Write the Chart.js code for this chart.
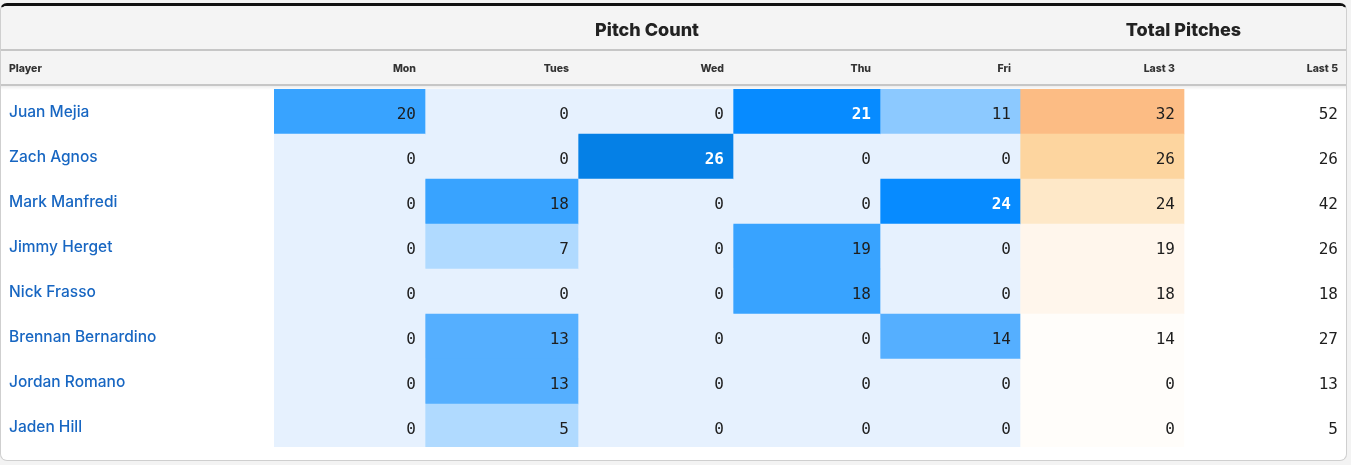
<!DOCTYPE html>
<html>
<head>
<meta charset="utf-8">
<script src="https://cdn.jsdelivr.net/npm/chart.js@4.4.1/dist/chart.umd.min.js"></script>
<style>
  html, body { margin: 0; padding: 0; background: #f3f3f3; }
  #card {
    position: absolute; left: 0; top: 3px; width: 1345px; height: 454px;
    background: #fff; border: 1px solid #cfcfcf; border-top: 3px solid #111;
    border-radius: 7px; overflow: hidden;
  }
  #chart { position: absolute; left: -1px; top: -6px; }
</style>
</head>
<body>
<div id="card"><canvas id="chart" width="1351" height="465"></canvas></div>
<script>
// data
var players = ['Juan Mejia', 'Zach Agnos', 'Mark Manfredi', 'Jimmy Herget', 'Nick Frasso', 'Brennan Bernardino', 'Jordan Romano', 'Jaden Hill'];
var columns = ['Mon', 'Tues', 'Wed', 'Thu', 'Fri', 'Last 3', 'Last 5'];
var groups = ['Pitch Count', 'Total Pitches'];
var mon   = [20, 0, 0, 0, 0, 0, 0, 0];
var tues  = [0, 0, 18, 7, 0, 13, 13, 5];
var wed   = [0, 26, 0, 0, 0, 0, 0, 0];
var thu   = [21, 0, 0, 19, 18, 0, 0, 0];
var fri   = [11, 0, 24, 0, 0, 14, 0, 0];
var last3 = [32, 26, 24, 19, 18, 14, 0, 0];
var last5 = [52, 26, 42, 26, 18, 27, 13, 5];
var values = [mon, tues, wed, thu, fri, last3, last5];

// layout: column widths in px, left to right
var colWidths = [151, 153, 155, 147, 140, 164, 163];
var edges = [0];
colWidths.forEach(function(w, i) { edges.push(edges[i] + w); });

function blue(v) {
	if (v >= 26) return '#0580e6';
	if (v >= 21) return '#078bff';
	if (v >= 18) return '#38a3ff';
	if (v >= 13) return '#55afff';
	if (v >= 11) return '#8cc9ff';
	if (v >= 5) return '#b0daff';
	return '#e6f1fe';
}
function orange(v) {
	if (v >= 32) return '#fcbc84';
	if (v >= 26) return '#fdd59f';
	if (v >= 24) return '#fee8c8';
	if (v >= 18) return '#fff6ec';
	return '#fffdfa';
}
function cellColor(col, v) {
	if (col < 5) return blue(v);
	if (col == 5) return orange(v);
	return 'rgba(0,0,0,0)';
}

var datasets = values.map(function(vals, c) {
	return {
		label: columns[c],
		data: vals.map(function() { return [edges[c], edges[c + 1]]; }),
		backgroundColor: vals.map(function(v) { return cellColor(c, v); }),
		borderWidth: 0,
		barPercentage: 1,
		categoryPercentage: 1,
		grouped: false
	};
});

var tablePlugin = {
	id: 'table',
	beforeDraw: function(chart) {
		var ctx = chart.ctx, xs = chart.scales.x;
		ctx.save();
		ctx.fillStyle = '#f4f4f4';
		ctx.fillRect(0, 6, chart.width, 79);
		ctx.fillStyle = '#c6c6c6';
		ctx.fillRect(0, 49, chart.width, 2);
		ctx.fillRect(0, 84, chart.width, 2);
		var g = ctx.createLinearGradient(0, 86, 0, 90);
		g.addColorStop(0, 'rgba(0,0,0,0.07)');
		g.addColorStop(1, 'rgba(0,0,0,0)');
		ctx.fillStyle = g;
		ctx.fillRect(0, 86, chart.width, 4);

		ctx.fillStyle = '#222';
		ctx.font = '800 18px Inter';
		ctx.textAlign = 'center';
		ctx.textBaseline = 'alphabetic';
		ctx.fillText(groups[0], (xs.getPixelForValue(edges[0]) + xs.getPixelForValue(edges[5])) / 2, 35.5);
		ctx.fillText(groups[1], (xs.getPixelForValue(edges[5]) + xs.getPixelForValue(edges[7])) / 2, 35.5);

		ctx.font = '800 10.5px Inter';
		ctx.fillStyle = '#333';
		ctx.textAlign = 'left';
		ctx.fillText('Player', 9, 72);
		ctx.textAlign = 'right';
		columns.forEach(function(c, i) {
			ctx.fillText(c, xs.getPixelForValue(edges[i + 1]) - 9, 72);
		});
		ctx.restore();
	},
	afterDatasetsDraw: function(chart) {
		var ctx = chart.ctx, xs = chart.scales.x, ys = chart.scales.y, area = chart.chartArea;
		ctx.save();
		// last row is cut by the card's bottom padding
		ctx.fillStyle = '#fff';
		ctx.fillRect(0, area.bottom - 2, chart.width, 3);

		ctx.textBaseline = 'alphabetic';
		ctx.textAlign = 'left';
		ctx.fillStyle = '#1766c2';
		ctx.font = '500 15.5px Inter';
		players.forEach(function(p, r) {
			ctx.fillText(p, 9, ys.getPixelForValue(r) + 5.5);
		});

		ctx.textAlign = 'right';
		values.forEach(function(vals, c) {
			vals.forEach(function(v, r) {
				var white = c < 5 && v >= 21;
				ctx.fillStyle = white ? '#fff' : '#1e1e1e';
				ctx.font = (white ? 'bold ' : '') + '16px "DejaVu Sans Mono"';
				ctx.fillText(String(v), xs.getPixelForValue(edges[c + 1]) - 9, ys.getPixelForValue(r) + 7);
			});
		});
		ctx.restore();
	}
};

var myTable = new Chart(document.getElementById('chart'), {
	type: 'bar',
	data: { labels: players, datasets: datasets },
	options: {
		responsive: false,
		animation: false,
		indexAxis: 'y',
		layout: { padding: { top: 89, bottom: 16, left: 274, right: 4 } },
		plugins: { legend: { display: false }, tooltip: { enabled: false } },
		scales: {
			x: { type: 'linear', min: 0, max: edges[edges.length - 1], display: false },
			y: { type: 'category', display: false }
		}
	},
	plugins: [tablePlugin]
});
</script>
</body>
</html>
